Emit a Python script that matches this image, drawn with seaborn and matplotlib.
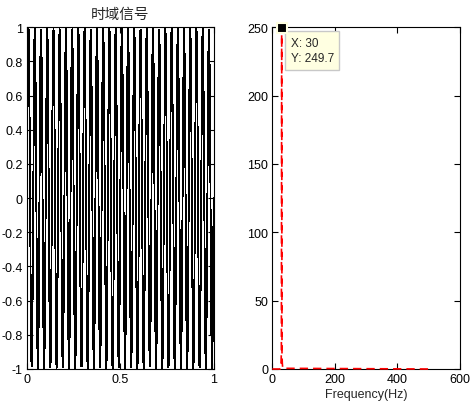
import numpy as np
import pandas as pd
import matplotlib
matplotlib.use("Agg")
import matplotlib.pyplot as plt
import seaborn as sns

# Time-domain signal (30 Hz tone, amplitude 1, 500 samples over 1 s)
SIGNAL_FREQ_HZ = 30
SIGNAL_AMP = 1.0
N_SAMPLES = 500

# Spectrum (peak at 30 Hz, small leakage, flat zero out to 500 Hz)
freq_hz = [0, 25, 26, 27, 28, 29, 30, 31, 32, 33, 34, 500]
magnitude = [0, 0, 0.5, 1.5, 5, 12, 249.7, 11, 4, 1.5, 0.5, 0]

# Tick labels
left_yticks = [-1, -0.8, -0.6, -0.4, -0.2, 0, 0.2, 0.4, 0.6, 0.8, 1]
left_ytick_labels = ["-1", "-0.8", "-0.6", "-0.4", "-0.2", "0", "0.2", "0.4", "0.6", "0.8", "1"]
left_xticks = [0, 0.5, 1]
left_xtick_labels = ["0", "0.5", "1"]
right_yticks = [0, 50, 100, 150, 200, 250]
right_xticks = [0, 200, 400, 600]

# datatip
tip_x = 30
tip_y = 249.7

sns.set_style("white")
plt.rcParams["font.family"] = ["Liberation Sans", "Noto Sans CJK SC", "DejaVu Sans"]
plt.rcParams["font.size"] = 9

t = np.linspace(0, 1, N_SAMPLES)
df_time = pd.DataFrame({"t": t, "y": SIGNAL_AMP * np.sin(2 * np.pi * SIGNAL_FREQ_HZ * t)})
df_freq = pd.DataFrame({"f": freq_hz, "mag": magnitude})

fig = plt.figure(figsize=(4.75, 4.10), dpi=100)
ax1 = fig.add_axes([27 / 475, 1 - 370 / 410, 186.6 / 475, 341.7 / 410])
ax2 = fig.add_axes([272.3 / 475, 1 - 370 / 410, 187.7 / 475, 341.7 / 410])

# Left: time signal
sns.lineplot(data=df_time, x="t", y="y", ax=ax1, color="black", linewidth=0.6,
             estimator=None, sort=False, antialiased=False)
ax1.set_xlim(0, 1)
ax1.set_ylim(-1, 1)
ax1.set_xticks(left_xticks)
ax1.set_xticklabels(left_xtick_labels)
ax1.set_yticks(left_yticks)
ax1.set_yticklabels(left_ytick_labels)
ax1.set_title("时域信号", fontsize=10.5, pad=7)
ax1.set_xlabel("")
ax1.set_ylabel("")

# Right: spectrum
sns.lineplot(data=df_freq, x="f", y="mag", ax=ax2, color="red", linewidth=1.2,
             linestyle="--", dashes=False, estimator=None, sort=False, zorder=3)
ax2.lines[0].set_dashes([5, 3])
ax2.lines[0].set_clip_on(False)
ax2.set_xlim(0, 600)
ax2.set_ylim(0, 250)
ax2.set_xticks(right_xticks)
ax2.set_yticks(right_yticks)
ax2.set_xlabel("Frequency(Hz)", labelpad=2)
ax2.set_ylabel("")

# datatip marker and box
ax2.plot([tip_x], [tip_y], marker="s", markersize=7, color="black",
         markeredgecolor="#ffffe1", markeredgewidth=1.5, clip_on=False, zorder=5)
ax2.annotate(f"X: {tip_x}\nY: {tip_y}", xy=(tip_x, tip_y), xytext=(9, -9),
             textcoords="offset pixels", ha="left", va="top", fontsize=8.5,
             linespacing=1.4, annotation_clip=False,
             bbox=dict(boxstyle="square,pad=0.45", facecolor="#ffffe1",
                       edgecolor="#c8c8c8", linewidth=1))

for ax in (ax1, ax2):
    for s in ax.spines.values():
        s.set_visible(True)
        s.set_color("black")
        s.set_linewidth(0.8)
    ax.tick_params(direction="in", length=4, width=0.8, top=True, right=True,
                   bottom=True, left=True, colors="black", labelsize=9, pad=3)

fig.savefig("out.png", dpi=100)
